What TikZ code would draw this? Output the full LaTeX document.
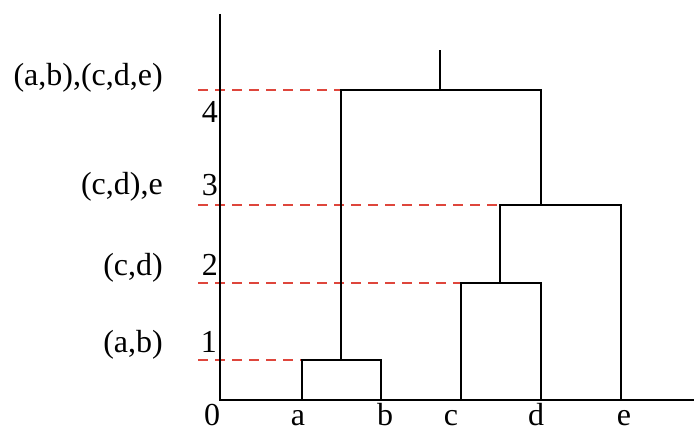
\documentclass[tikz,border=0pt]{standalone}
\usepackage{fontspec}
\setmainfont{Liberation Serif}
\begin{document}
\begin{tikzpicture}[x=1pt,y=-1pt,
  lbl/.style={inner sep=0pt,font=\fontsize{32}{32}\selectfont},
  tree/.style={draw=black,line width=2.3pt,line join=miter},
  axis/.style={draw=black,line width=2.3pt},
  guide/.style={draw={rgb,255:red,222;green,70;blue,60},line width=2.2pt,dash pattern=on 10pt off 7pt}]
\useasboundingbox (0,0) rectangle (694,433);
% axes
\coordinate (ytop) at (220,14);
\coordinate (orig) at (220,400);
\coordinate (xend) at (694,400);
% leaves
\coordinate (la) at (302,400);
\coordinate (lb) at (381,400);
\coordinate (lc) at (461,400);
\coordinate (ld) at (541,400);
\coordinate (le) at (621,400);
% merges
\coordinate (ab1) at (302,360); \coordinate (ab2) at (381,360); \coordinate (abm) at (341,360);
\coordinate (cd1) at (461,283); \coordinate (cd2) at (541,283); \coordinate (cdm) at (500,283);
\coordinate (cde1) at (500,205); \coordinate (cde2) at (621,205); \coordinate (cdem) at (541,205);
\coordinate (all1) at (341,90); \coordinate (all2) at (541,90); \coordinate (allm) at (440,90);
\coordinate (root) at (440,50);
% guide starts
\coordinate (g1) at (198,360);
\coordinate (g2) at (198,283);
\coordinate (g3) at (198,205);
\coordinate (g4) at (198,90);
% guides
\draw[guide] (g1) -- (ab1);
\draw[guide] (g2) -- (cd1);
\draw[guide] (g3) -- (cde1);
\draw[guide] (g4) -- (all1);
% axes
\draw[axis] (ytop) -- (orig) -- (xend);
% tree
\draw[tree] (la) -- (ab1) -- (ab2) -- (lb);
\draw[tree] (lc) -- (cd1) -- (cd2) -- (ld);
\draw[tree] (cdm) -- (cde1) -- (cde2) -- (le);
\draw[tree] (abm) -- (all1) -- (all2) -- (cdem);
\draw[tree] (allm) -- (root);
% level labels
\node[lbl,anchor=base east] (n1) at (217,352) {1};
\node[lbl,anchor=base east] (n2) at (218,275) {2};
\node[lbl,anchor=base east] (n3) at (218,196) {3};
\node[lbl,anchor=base east] (n4) at (218,123) {4};
% cluster labels
\node[lbl,anchor=base east] (c1) at (163,352) {(a,b)};
\node[lbl,anchor=base east] (c2) at (163,275) {(c,d)};
\node[lbl,anchor=base east] (c3) at (163,195) {(c,d),e};
\node[lbl,anchor=base east] (c4) at (163,86) {(a,b),(c,d,e)};
% leaf labels
\node[lbl,anchor=base] (t0) at (212,425) {0};
\node[lbl,anchor=base] (ta) at (298,425) {a};
\node[lbl,anchor=base] (tb) at (385,425) {b};
\node[lbl,anchor=base] (tc) at (451,425) {c};
\node[lbl,anchor=base] (td) at (536,425) {d};
\node[lbl,anchor=base] (te) at (624,425) {e};
\end{tikzpicture}
\end{document}
